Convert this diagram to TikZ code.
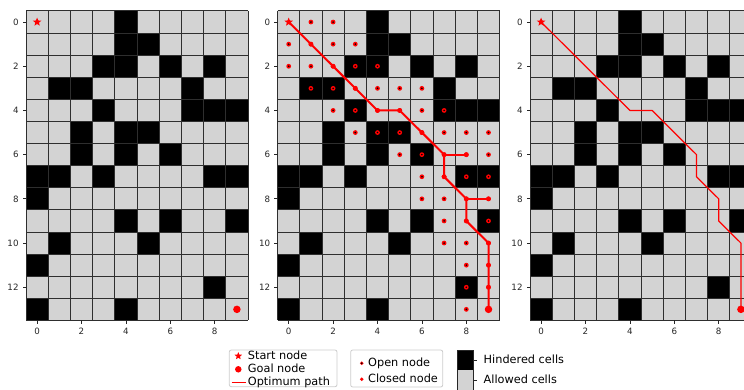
\documentclass[tikz,border=0pt]{standalone}
\usepackage{fontspec}
\setmainfont{DejaVu Sans}
\usepackage{xcolor}
\usepackage{tikz}
\usetikzlibrary{shapes.geometric}

\definecolor{allowed}{RGB}{211,211,211}
\definecolor{legedge}{RGB}{204,204,204}

% blocked cells as row/column
\newcommand{\hindered}{0/4,1/4,1/5,2/3,2/4,2/6,2/8,3/1,3/2,3/7,4/3,4/7,4/8,4/9,5/2,5/4,5/5,%
    6/2,6/4,6/6,7/0,7/1,7/3,7/8,7/9,8/0,9/4,9/6,9/9,10/1,10/5,11/0,12/8,13/0,13/4}
\newcommand{\ticksize}{\fontsize{8.7}{10}\selectfont}
\newcommand{\legsize}{\fontsize{11.3}{13}\selectfont}

% one board with its axes
\newcommand{\drawboard}{%
    \fill[allowed] (0,0) rectangle (10,14);
    \foreach \r/\c in \hindered {\fill[black] (\c,\r) rectangle ++(1,1);}
    \foreach \c in {0,...,10} {\draw[cellline] (\c,0) -- (\c,14);}
    \foreach \r in {0,...,14} {\draw[cellline] (0,\r) -- (10,\r);}
    \foreach \k in {0,2,...,8}
        {\draw[tickmark] (\k+0.5,14) -- ++(0,-3.5pt) node[below, inner sep=4pt, font=\ticksize] {\k};}
    \foreach \k in {0,2,...,12}
        {\draw[tickmark] (0,\k+0.5) -- ++(-3.5pt,0) node[left, inner sep=3.6pt, font=\ticksize] {\k};}
}

\begin{document}
\begin{tikzpicture}[
        x=1pt, y=-1pt,
        cellline/.style={black!82, line width=1pt},
        tickmark/.style={black!85, line width=0.7pt},
        startmark/.style={star, star points=5, star point ratio=2.3, fill=red, minimum size=9pt, inner sep=0pt},
        goalmark/.style={circle, fill=red, minimum size=7.5pt, inner sep=0pt},
        visit/.style={circle, fill=red, minimum size=4.8pt, inner sep=0pt,
            path picture={\fill[black] (path picture bounding box.center) circle (0.9pt);}},
        hop/.style={circle, fill=red, minimum size=4.8pt, inner sep=0pt},
        route/.style={red, line width=2pt, line join=round},
        thinroute/.style={red, line width=1.2pt, line join=round},
        legbox/.style={draw=legedge, fill=white, rounded corners=2pt, line width=0.8pt},
        legtext/.style={anchor=west, inner sep=0pt, font=\legsize, text height=8pt, text depth=2.3pt}
    ]
    \clip (0,0) rectangle (744,390);

    % panel 1: the map
    \begin{scope}[xshift=26pt, yshift=-11pt, x=22.2pt, y=-22.1pt]
        \drawboard
        \node[startmark] (start1) at (0.5,0.5) {};
        \node[goalmark]  (goal1)  at (9.5,13.5) {};
    \end{scope}

    % panel 2: the search
    \begin{scope}[xshift=277.6pt, yshift=-11pt, x=22.2pt, y=-22.1pt]
        \drawboard
        \foreach \r/\c in {0/1,0/2,1/0,1/1,1/2,1/3,2/0,2/1,2/2,2/3,2/4,3/1,3/2,3/3,3/4,3/5,3/6,
                4/2,4/3,4/4,4/5,4/6,4/7,5/3,5/4,5/5,5/6,5/7,5/8,5/9,6/5,6/6,6/7,6/8,6/9,
                7/6,7/7,7/8,7/9,8/6,8/7,8/8,8/9,9/7,9/8,9/9,10/7,10/8,10/9,11/8,11/9,12/8,12/9,13/8}
            {\node[visit] (v-\r-\c) at (\c+0.5,\r+0.5) {};}
        \foreach \r/\c [count=\i] in {0/0,1/1,2/2,3/3,4/4,4/5,5/6,6/7,7/7,8/8,9/8,10/9,11/9,12/9,13/9}
            {\coordinate (m\i) at (\c+0.5,\r+0.5);}
        \coordinate (s1) at (8.5,6.5);
        \coordinate (s2) at (9.5,8.5);
        \draw[route] (m1) -- (m2) -- (m3) -- (m4) -- (m5) -- (m6) -- (m7) -- (m8) -- (m9)
            -- (m10) -- (m11) -- (m12) -- (m13) -- (m14) -- (m15);
        \draw[route] (m8) -- (s1);
        \draw[route] (m10) -- (s2);
        \foreach \i in {2,...,14} {\node[hop] at (m\i) {};}
        \node[hop] at (s1) {};
        \node[hop] at (s2) {};
        \node[startmark] (start2) at (m1) {};
        \node[goalmark]  (goal2)  at (m15) {};
    \end{scope}

    % panel 3: the result
    \begin{scope}[xshift=530pt, yshift=-11pt, x=22.2pt, y=-22.1pt]
        \drawboard
        \foreach \r/\c [count=\i] in {0/0,4/4,4/5,6/7,7/7,8/8,9/8,10/9,13/9}
            {\coordinate (n\i) at (\c+0.5,\r+0.5);}
        \draw[thinroute] (n1) -- (n2) -- (n3) -- (n4) -- (n5) -- (n6) -- (n7) -- (n8) -- (n9);
        \node[startmark] (start3) at (n1) {};
        \node[goalmark]  (goal3)  at (n9) {};
    \end{scope}

    % legends
    \draw[legbox] (229.3,350) rectangle (337,386.7);
    \node[startmark, minimum size=8pt] (lstar) at (238.3,356) {};
    \node[legtext] (lstart) at (247.7,356.5) {Start node};
    \node[goalmark, minimum size=6.5pt] (ldot) at (238.3,369.3) {};
    \node[legtext] (lgoal) at (247.7,369.5) {Goal node};
    \coordinate (la) at (231.7,382.3);
    \coordinate (lb) at (245.7,382.3);
    \draw[thinroute] (la) -- (lb);
    \node[legtext] (lpath) at (247.7,382.3) {Optimum path};

    \draw[legbox] (350.7,350) rectangle (442.7,387);
    \node[visit, minimum size=3.8pt] (lopen) at (361.7,363.3) {};
    \node[hop, minimum size=3.8pt] (lclosed) at (361.7,379.3) {};
    \node[legtext] (lopent) at (368,363.3) {Open node};
    \node[legtext] (lclosedt) at (368,379.3) {Closed node};

    % colour key
    \fill[black] (457,350) rectangle (473,370);
    \fill[allowed] (457,370) rectangle (473,396);
    \draw[black!85, line width=0.7pt] (457,350) rectangle (473,396);
    \coordinate (kh) at (473,360.5);
    \coordinate (ka) at (473,380.5);
    \draw[tickmark] (kh) -- ++(3.5,0);
    \draw[tickmark] (ka) -- ++(3.5,0);
    \node[legtext] (khind) at (483.5,360.5) {Hindered cells};
    \node[legtext] (kallow) at (483.5,381) {Allowed cells};
\end{tikzpicture}
\end{document}
